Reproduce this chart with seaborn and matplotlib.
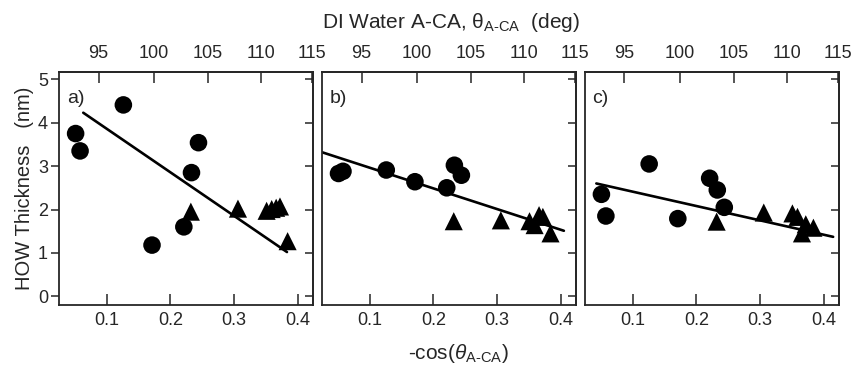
import numpy as np
import pandas as pd
import matplotlib
matplotlib.use("Agg")
import matplotlib.pyplot as plt
import seaborn as sns

# -cos(theta) positions shared by all three panels
circle_x = [0.051, 0.058, 0.126, 0.171, 0.221, 0.233, 0.244]
triangle_x = [0.232, 0.306, 0.351, 0.359, 0.366, 0.372, 0.384]

# HOW thickness (nm) per panel
circle_y = {
    "a)": [3.75, 3.35, 4.41, 1.18, 1.60, 2.85, 3.54],
    "b)": [2.83, 2.88, 2.91, 2.64, 2.50, 3.02, 2.79],
    "c)": [2.35, 1.85, 3.05, 1.79, 2.72, 2.45, 2.05],
}
triangle_y = {
    "a)": [1.95, 2.02, 1.97, 2.01, 2.04, 2.07, 1.27],
    "b)": [1.73, 1.75, 1.73, 1.64, 1.87, 1.83, 1.45],
    "c)": [1.72, 1.93, 1.91, 1.83, 1.45, 1.66, 1.58],
}

# linear fit end points per panel
fit_x = {"a)": [0.063, 0.383], "b)": [0.025, 0.405], "c)": [0.043, 0.415]}
fit_y = {"a)": [4.23, 1.02], "b)": [3.32, 1.51], "c)": [2.60, 1.37]}

panels = ["a)", "b)", "c)"]
x_ticks = [0.1, 0.2, 0.3, 0.4]
deg_ticks = [95, 100, 105, 110, 115]
y_ticks = [0, 1, 2, 3, 4, 5]


def to_deg(x):
    return np.degrees(np.arccos(np.clip(-np.asarray(x, dtype=float), -1, 1)))


def to_cos(d):
    return -np.cos(np.radians(np.asarray(d, dtype=float)))


sns.set_style("ticks")
plt.rcParams["font.family"] = ["Liberation Sans", "DejaVu Sans"]
plt.rcParams["mathtext.fontset"] = "custom"
plt.rcParams["mathtext.rm"] = "Liberation Sans"
plt.rcParams["mathtext.it"] = "Liberation Sans:italic"
plt.rcParams["axes.linewidth"] = 1.3
plt.rcParams["xtick.major.width"] = 1.1
plt.rcParams["ytick.major.width"] = 1.1

fig, axes = plt.subplots(1, 3, figsize=(8.56, 3.67), dpi=100, sharey=True)
fig.subplots_adjust(left=0.069, right=0.980, top=0.804, bottom=0.169, wspace=0.035)

for i, (ax, p) in enumerate(zip(axes, panels)):
    circ = pd.DataFrame({"x": circle_x, "y": circle_y[p]})
    tri = pd.DataFrame({"x": triangle_x, "y": triangle_y[p]})
    fit = pd.DataFrame({"x": fit_x[p], "y": fit_y[p]})

    sns.lineplot(data=fit, x="x", y="y", ax=ax, color="black", lw=1.9)
    sns.scatterplot(data=circ, x="x", y="y", ax=ax, marker="o", s=160,
                    color="black", edgecolor="none", zorder=3)
    sns.scatterplot(data=tri, x="x", y="y", ax=ax, marker="^", s=170,
                    color="black", edgecolor="none", zorder=3)

    ax.set_xlim(0.025, 0.424)
    ax.set_ylim(-0.2, 5.17)
    ax.set_xticks(x_ticks)
    ax.set_xticklabels([f"{t:.1f}" for t in x_ticks])
    ax.set_yticks(y_ticks)
    ax.set_xlabel("")
    ax.set_ylabel("")
    ax.tick_params(axis="x", direction="in", length=8, labelsize=13, pad=5)
    if i == 0:
        ax.tick_params(axis="y", direction="out", length=6, labelsize=13, pad=2)
    else:
        ax.tick_params(axis="y", length=0, labelleft=False)

    right = ax.secondary_yaxis("right")
    right.set_yticks(y_ticks)
    right.tick_params(direction="in", length=6, labelright=False)

    top = ax.secondary_xaxis("top", functions=(to_deg, to_cos))
    top.set_xticks(deg_ticks)
    top.tick_params(direction="in", length=8, labelsize=13, pad=7)

    ax.text(0.03, 0.885, p, transform=ax.transAxes, fontsize=14,
            va="center", ha="left")

axes[0].set_ylabel("HOW Thickness   (nm)", fontsize=14.5, labelpad=3)

fig.text(0.527, 0.938, r"DI Water A-CA, $\mathrm{\theta}_{\text{A-CA}}$  (deg)",
         ha="center", va="center", fontsize=15)
fig.text(0.535, 0.038, r"-cos($\theta_{\text{A-CA}}$)",
         ha="center", va="center", fontsize=15)

plt.savefig("out.png", dpi=100)
plt.close()
